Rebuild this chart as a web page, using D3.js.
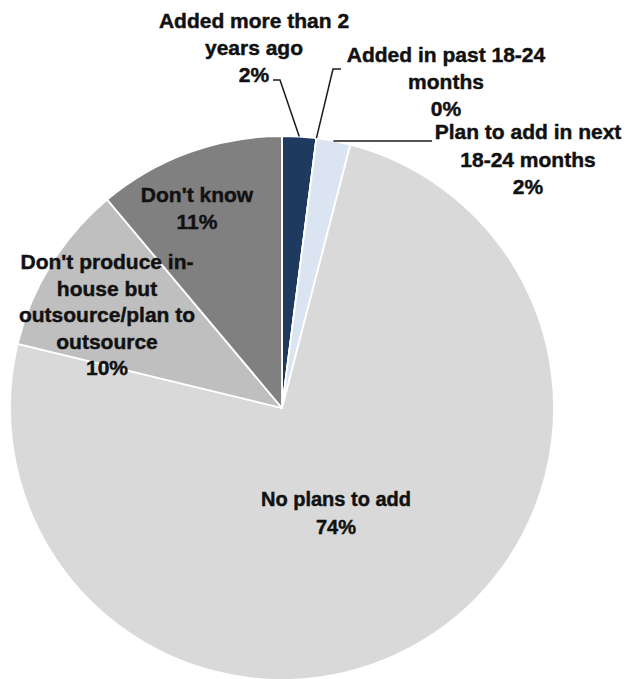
<!DOCTYPE html>
<html>
<head>
<meta charset="utf-8">
<script src="https://cdn.jsdelivr.net/npm/d3@7/dist/d3.min.js"></script>
<style>
  html, body { margin: 0; padding: 0; background: #ffffff; }
  svg { display: block; }
  .lbl { font-family: "Liberation Sans", Arial, sans-serif; font-weight: bold; fill: #111111; stroke: #111111; stroke-width: 0.45px; }
</style>
</head>
<body>
<svg id="chart" width="627" height="679"></svg>
<script>
// Survey shares, in drawing order clockwise from 12 o'clock
const categories = [
  "Added more than 2 years ago",
  "Added in past 18-24 months",
  "Plan to add in next 18-24 months",
  "No plans to add",
  "Don't produce in-house but outsource/plan to outsource",
  "Don't know"
];
const shares = [2, 0, 2, 74, 10, 11];

// Wrapped label lines for each category
const labelLines = [
  ["Added more than 2", "years ago"],
  ["Added in past 18-24", "months"],
  ["Plan to add in next", "18-24 months"],
  ["No plans to add"],
  ["Don't produce in-", "house but", "outsource/plan to", "outsource"],
  ["Don't know"]
];

const sliceColors = ["#1f3a5f", "#c8d6e8", "#dbe5f1", "#d9d9d9", "#bfbfbf", "#808080"];

const width = 627, height = 679;
const cx = 282, cy = 408, radius = 272;

const svg = d3.select("#chart");
const g = svg.append("g").attr("transform", `translate(${cx},${cy})`);

const pie = d3.pie().sort(null).value(d => d.value);
const rows = categories.map((c, i) => ({ name: c, value: shares[i], lines: labelLines[i], color: sliceColors[i] }));
const arcs = pie(rows);

const arc = d3.arc().innerRadius(0).outerRadius(radius);
const rim = d3.arc().innerRadius(radius).outerRadius(radius);

g.selectAll("path.slice")
  .data(arcs)
  .enter().append("path")
  .attr("class", "slice")
  .attr("d", arc)
  .attr("fill", d => d.data.color)
  .attr("stroke", "#ffffff")
  .attr("stroke-width", 1.8)
  .attr("stroke-linejoin", "round");

// Label placement: anchor centre x, first baseline y, line step, font size
const labelLayout = [
  { x: 254, y: 28,  step: 27,   size: 21, leader: [[273, 80], [280, 80]] },
  { x: 446, y: 62,  step: 27,   size: 21, leader: [[341, 69], [333, 69]] },
  { x: 528, y: 139, step: 27.5, size: 21, leader: [[432, null]] },
  { x: 336, y: 506, step: 27.5, size: 20, leader: null },
  { x: 107, y: 269, step: 26.6, size: 21, leader: null },
  { x: 197, y: 202, step: 26.6, size: 21, leader: null }
];

arcs.forEach((d, i) => {
  const L = labelLayout[i];
  const lines = d.data.lines.concat([d.data.value + "%"]);
  const t = svg.append("text")
    .attr("class", "lbl")
    .attr("text-anchor", "middle")
    .attr("font-size", L.size);
  lines.forEach((s, k) => {
    t.append("tspan")
      .attr("x", L.x)
      .attr("y", L.y + k * L.step)
      .text(s);
  });

  if (L.leader) {
    const [px, py] = rim.centroid(d);
    const end = [cx + px, cy + py];
    const pts = L.leader.map(p => [p[0], p[1] === null ? end[1] : p[1]]);
    pts.push(end);
    svg.append("path")
      .attr("d", d3.line()(pts))
      .attr("fill", "none")
      .attr("stroke", "#1a1a1a")
      .attr("stroke-width", 1.5);
  }
});
</script>
</body>
</html>
